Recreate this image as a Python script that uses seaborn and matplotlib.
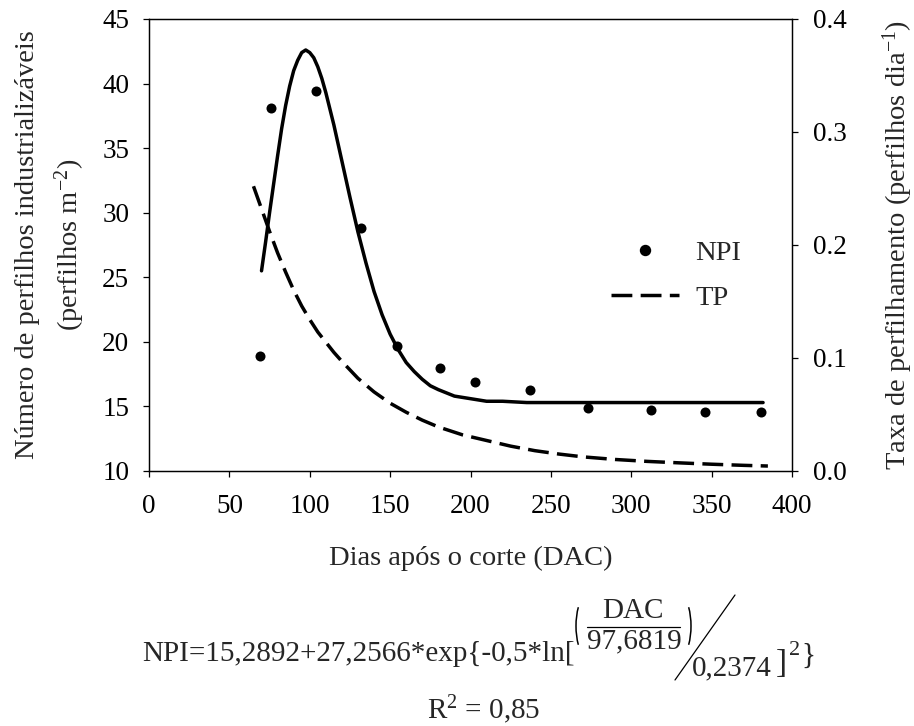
import matplotlib
matplotlib.use("Agg")
import matplotlib.pyplot as plt
import seaborn as sns
from matplotlib.lines import Line2D
from matplotlib.patches import Arc

# observed number of industrializable tillers (left axis)
dac_obs = [69, 76, 104, 132, 154, 181, 203, 237, 273, 312, 346, 381]
npi_obs = [18.9, 38.1, 39.4, 28.8, 19.7, 18.0, 16.9, 16.3, 14.9, 14.7, 14.6, 14.6]

# fitted NPI curve
fit_dac = [70, 72.5, 75, 77.5, 80, 82.5, 85, 87.5, 90, 92.5, 95, 97.5, 100, 102.5, 105, 107.5,
           110, 115, 120, 125, 130, 135, 140, 145, 150, 155, 160, 165, 170, 175, 180,
           190, 200, 210, 220, 235, 250, 275, 300, 340, 382]
fit_npi = [25.5, 27.7, 30.0, 32.2, 34.4, 36.5, 38.3, 39.8, 41.0, 41.8, 42.4, 42.6, 42.4, 42.0, 41.3, 40.4,
           39.3, 36.8, 34.0, 31.2, 28.5, 26.1, 23.9, 22.1, 20.6, 19.4, 18.4, 17.7, 17.1, 16.6, 16.3,
           15.8, 15.6, 15.4, 15.4, 15.3, 15.3, 15.3, 15.3, 15.3, 15.3]

# tillering rate TP (right axis)
tp_dac = [65, 70, 75, 80, 85, 90, 95, 100, 105, 110, 115, 120, 130, 140, 150, 160, 170, 180,
          195, 210, 225, 240, 255, 270, 290, 310, 330, 350, 370, 385]
tp_val = [0.252, 0.232, 0.212, 0.193, 0.176, 0.160, 0.146, 0.134, 0.123, 0.114, 0.105, 0.097,
          0.082, 0.070, 0.060, 0.052, 0.045, 0.039, 0.032, 0.027, 0.022, 0.018, 0.015, 0.0125,
          0.0102, 0.0085, 0.0072, 0.0060, 0.0050, 0.0044]

x_ticks = [0, 50, 100, 150, 200, 250, 300, 350, 400]
npi_ticks = [10, 15, 20, 25, 30, 35, 40, 45]
tp_ticks = [0.0, 0.1, 0.2, 0.3, 0.4]

sns.set_style("ticks")
plt.rcParams["font.family"] = ["Liberation Serif", "DejaVu Serif"]
plt.rcParams["mathtext.fontset"] = "custom"
plt.rcParams["mathtext.rm"] = "Liberation Serif"
plt.rcParams["mathtext.it"] = "Liberation Serif:italic"
plt.rcParams["mathtext.default"] = "regular"
plt.rcParams["axes.linewidth"] = 0.9
plt.rcParams["axes.edgecolor"] = "black"

W, H = 914, 726
fx = lambda x: x / W
fy = lambda y: 1 - y / H

fig = plt.figure(figsize=(W / 100, H / 100), dpi=100)
ax = fig.add_axes([fx(149), fy(471), (792 - 149) / W, (471 - 19) / H])
ax2 = ax.twinx()

TICK = 19.5
LAB = 20.5

sns.scatterplot(x=dac_obs, y=npi_obs, ax=ax, color="black", s=52, linewidth=0, zorder=3)
sns.lineplot(x=fit_dac, y=fit_npi, ax=ax, color="black", lw=2.5)
sns.lineplot(x=tp_dac, y=tp_val, ax=ax2, color="black", lw=2.5)
ax2.lines[-1].set_dashes([6, 2.4])

ax.set_xlim(0, 400)
ax.set_ylim(10, 45)
ax2.set_ylim(0, 0.4)
ax.set_xticks(x_ticks)
ax.set_yticks(npi_ticks)
ax2.set_yticks(tp_ticks, [f"{v:.1f}" for v in tp_ticks])

ax.tick_params(axis="both", direction="out", length=4.3, width=0.9, labelsize=TICK, colors="black")
ax.tick_params(axis="x", pad=12.5)
ax.tick_params(axis="y", pad=10)
ax2.tick_params(axis="y", direction="out", length=4.3, width=0.9, labelsize=TICK, pad=11, colors="black")

ax.set_xlabel("Dias após o corte (DAC)", fontsize=LAB)
ax.xaxis.set_label_coords(0.5, -0.165)
ax.set_ylabel("Número de perfilhos industrializáveis\n(perfilhos m$^{-2}$)", fontsize=LAB, linespacing=1.5)
ax.yaxis.set_label_coords(-0.097, 0.5)
ax2.set_ylabel("Taxa de perfilhamento (perfilhos dia$^{-1}$)", fontsize=LAB)
ax2.yaxis.set_label_coords(1.137, 0.5)

handles = [Line2D([], [], color="black", marker="o", ls="none", markersize=7.2),
           Line2D([], [], color="black", lw=2.5, dashes=[6, 2.4])]
ax2.legend(handles, ["NPI", "TP"], loc="center left", bbox_to_anchor=(0.7185, 0.4325),
           frameon=False, borderpad=0, borderaxespad=0, handlelength=2.4,
           handletextpad=0.55, labelspacing=0.65, fontsize=LAB)

# regression equation below the chart
tf = fig.transFigure
fig.text(fx(575), fy(661), "NPI=15,2892+27,2566*exp{-0,5*ln[", fontsize=21,
         ha="right", va="baseline")
fig.text(fx(633), fy(618), "DAC", fontsize=21, ha="center", va="baseline")
fig.add_artist(Line2D([fx(587), fx(680)], [fy(627), fy(627)], transform=tf, color="black", lw=0.9))
fig.text(fx(634), fy(648), "97,6819", fontsize=21, ha="center", va="baseline")
fig.add_artist(Arc((fx(592), fy(626)), 32 / W, 72 / H, theta1=120, theta2=240,
                   transform=tf, color="black", lw=1.1))
fig.add_artist(Arc((fx(675), fy(626)), 32 / W, 72 / H, theta1=-60, theta2=60,
                   transform=tf, color="black", lw=1.1))
fig.add_artist(Line2D([fx(675), fx(735)], [fy(680), fy(595)], transform=tf, color="black", lw=0.9))
fig.text(fx(692), fy(675), "0,2374", fontsize=21, ha="left", va="baseline")
fig.text(fx(776), fy(672), "]", fontsize=24, ha="left", va="baseline")
fig.text(fx(789), fy(655), "2", fontsize=16, ha="left", va="baseline")
fig.text(fx(801), fy(663), "}", fontsize=21, ha="left", va="baseline")
fig.text(fx(484), fy(719), "R$^2$ = 0,85", fontsize=21, ha="center", va="baseline")

fig.savefig("out.png", dpi=100)
